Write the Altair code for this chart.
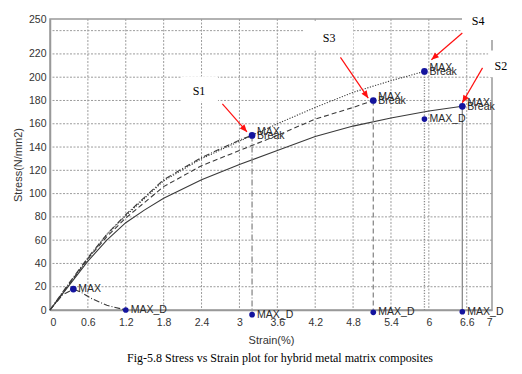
import math
import altair as alt
import pandas as pd

# ---------------- data ----------------
x_ticks = [0, 0.6, 1.2, 1.8, 2.4, 3.0, 3.6, 4.2, 4.8, 5.4, 6.0, 6.6, 7.0]
y_ticks = [0, 20, 40, 60, 80, 100, 120, 140, 160, 180, 200, 220, 240, 250]

s1_strain = [0, 0.3, 0.6, 0.9, 1.2, 1.8, 2.4, 3.0, 3.2]
s1_stress = [0, 23, 45, 65, 82, 112, 131, 146, 150]
s2_strain = [0, 0.3, 0.6, 0.9, 1.2, 1.5, 1.8, 2.4, 3.0, 3.6, 4.2, 4.8, 5.4, 6.0, 6.53]
s2_stress = [0, 21, 42, 60, 75, 86, 96, 112, 125, 137, 149, 158, 165, 171, 175]
s3_strain = [0, 0.3, 0.6, 0.9, 1.2, 1.8, 2.4, 3.0, 3.6, 4.2, 4.8, 5.12]
s3_stress = [0, 22, 44, 63, 79, 106, 124, 137, 150, 164, 174, 180]
s4_strain = [0, 0.3, 0.6, 0.9, 1.2, 1.8, 2.4, 3.0, 3.6, 4.2, 4.8, 5.4, 5.93]
s4_stress = [0, 22, 44, 65, 81, 111, 130, 145, 160, 174, 187, 197, 205]
s5_strain = [0, 0.2, 0.37, 0.5, 0.65, 0.9, 1.2]
s5_stress = [0, 13, 18, 15, 10, 4, 0]

max_strain = [0.37, 3.2, 5.12, 5.93, 6.53]
max_stress = [18, 150, 180, 205, 175]
break_strain = [3.2, 5.12, 5.93, 6.53]
break_stress = [150, 180, 205, 175]
maxd_strain = [1.2, 3.2, 5.12, 5.93, 6.53]
maxd_stress = [0, -4, -2, 164, -1.5]

drop_strain = [3.2, 5.12, 5.93, 6.53]
drop_top = [150, 180, 205, 175]
drop_bottom = [-4, -2, 0, 0]

s_names = ["S1", "S3", "S4", "S2"]
s_label_strain = [2.36, 4.42, 6.78, 7.14]
s_label_stress = [188, 234, 248, 210]
box_x1 = [2.09, 4.01, 6.525, 6.94]
box_x2 = [2.66, 4.80, 7.5, 7.5]
box_y1 = [179, 223, 232, 200]
box_y2 = [200.5, 247.5, 266, 223]
arrow_from_strain = [2.73, 4.60, 6.53, 6.85]
arrow_from_stress = [177, 217, 238, 208]
arrow_to_strain = [3.12, 5.04, 6.04, 6.53]
arrow_to_stress = [153, 182, 215, 178]

caption = "Fig-5.8 Stress vs Strain plot for hybrid metal matrix composites"

# ---------------- layout ----------------
W, H = 442, 291
XMAX, YMAX = 7.0, 250.0
ppx, ppy = W / XMAX, H / YMAX

xscale = alt.Scale(domain=[0, XMAX], nice=False, zero=False)
yscale = alt.Scale(domain=[0, YMAX], nice=False, zero=False)
xaxis = alt.Axis(values=x_ticks, format="~g", title="Strain(%)", ticks=False, grid=False,
                 labelPadding=7, titleY=30, titleBaseline="middle")
yaxis = alt.Axis(values=y_ticks, title="Stress(N/mm2)", ticks=False, grid=False,
                 labelPadding=4, titlePadding=5,
                 labelExpr="datum.value == 240 ? '' : datum.label")


def X(f="x"):
    return alt.X(f"{f}:Q", scale=xscale, axis=xaxis)


def Y(f="y"):
    return alt.Y(f"{f}:Q", scale=yscale, axis=yaxis)


LINE = "#3a3a3a"
DROP = "#8a8a8a"
PT = "#14149e"
GRID = "#9c9c9c"

layers = []

# grid lines drawn from the tick lists
gx = pd.DataFrame({"x": x_ticks[1:-1]})
layers.append(alt.Chart(gx).mark_rule(color=GRID, strokeDash=[2, 1.5], strokeWidth=1).encode(x=X()))
gy = pd.DataFrame({"y": y_ticks[1:-1]})
layers.append(alt.Chart(gy).mark_rule(color=GRID, strokeDash=[2, 1.5], strokeWidth=1).encode(y=Y()))

# white boxes behind S labels
boxes = pd.DataFrame({"x": box_x1, "x2": box_x2, "y": box_y1, "y2": box_y2})
layers.append(alt.Chart(boxes).mark_rect(color="white").encode(
    x=X(), x2="x2:Q", y=Y(), y2="y2:Q"))

curves = [
    (s1_strain, s1_stress, [6, 2, 1, 2]),
    (s2_strain, s2_stress, [1, 0]),
    (s3_strain, s3_stress, [5, 3]),
    (s4_strain, s4_stress, [1.2, 1.5]),
    (s5_strain, s5_stress, [6, 2, 1, 2]),
]
for xs, ys, dash in curves:
    df = pd.DataFrame({"x": xs, "y": ys, "o": list(range(len(xs)))})
    kw = {} if dash == [1, 0] else {"strokeDash": dash}
    layers.append(alt.Chart(df).mark_line(color=LINE, strokeWidth=1.1, **kw).encode(
        x=X(), y=Y(), order="o:Q"))

drop_dash = [[6, 2, 1, 2], [5, 3], [1.2, 1.5], [1, 0]]
for xv, top, bot, dash in zip(drop_strain, drop_top, drop_bottom, drop_dash):
    df = pd.DataFrame({"x": [xv], "y": [top], "y2": [bot]})
    kw = {} if dash == [1, 0] else {"strokeDash": dash}
    layers.append(alt.Chart(df).mark_rule(color=DROP, strokeWidth=1.3, **kw).encode(
        x=X(), y=Y(), y2="y2:Q"))

maxdf = pd.DataFrame({"x": max_strain, "y": max_stress})
mddf = pd.DataFrame({"x": maxd_strain, "y": maxd_stress})

layers.append(alt.Chart(maxdf).mark_point(filled=True, color=PT, size=45, opacity=1).encode(x=X(), y=Y()))
layers.append(alt.Chart(mddf).mark_point(filled=True, color=PT, size=32, opacity=1).encode(x=X(), y=Y()))

TXT = dict(font="Liberation Sans", fontSize=10.5, color="#2a2a2a", align="left", baseline="middle")
maxlab = pd.DataFrame({"x": max_strain[1:], "y": max_stress[1:], "t": ["MAX"] * 4})
layers.append(alt.Chart(maxlab).mark_text(dx=5, dy=-3, **TXT).encode(x=X(), y=Y(), text="t:N"))
brklab = pd.DataFrame({"x": break_strain, "y": break_stress, "t": ["Break"] * 4})
layers.append(alt.Chart(brklab).mark_text(dx=5, dy=1, **TXT).encode(x=X(), y=Y(), text="t:N"))
onelab = pd.DataFrame({"x": [max_strain[0]] + maxd_strain,
                       "y": [max_stress[0]] + maxd_stress,
                       "t": ["MAX"] + ["MAX_D"] * 5})
layers.append(alt.Chart(onelab).mark_text(dx=5, dy=0, **TXT).encode(x=X(), y=Y(), text="t:N"))

# S labels
sl = pd.DataFrame({"x": s_label_strain, "y": s_label_stress, "t": s_names})
layers.append(alt.Chart(sl).mark_text(font="Liberation Serif", fontSize=12, color="black").encode(
    x=X(), y=Y(), text="t:N"))

# arrows
angles = []
for fx, fy, tx, ty in zip(arrow_from_strain, arrow_from_stress, arrow_to_strain, arrow_to_stress):
    dx = (tx - fx) * ppx
    dy = -(ty - fy) * ppy
    angles.append(math.degrees(math.atan2(dx, -dy)) % 360)
arr = pd.DataFrame({"x": arrow_from_strain, "y": arrow_from_stress,
                    "x2": arrow_to_strain, "y2": arrow_to_stress, "a": angles})
layers.append(alt.Chart(arr).mark_rule(color="#ff1010", strokeWidth=1.2).encode(
    x=X(), y=Y(), x2="x2:Q", y2="y2:Q"))
layers.append(alt.Chart(arr).mark_point(
    shape="M0,0 L-0.42,1 L0.42,1 Z", filled=True, color="#ff1010", size=220, opacity=1
).encode(x=alt.X("x2:Q", scale=xscale, axis=xaxis), y=alt.Y("y2:Q", scale=yscale, axis=yaxis),
         angle=alt.Angle("a:Q", scale=None)))

chart = alt.layer(*layers).properties(
    width=W, height=H,
    autosize=alt.AutoSizeParams(type="none"),
    padding={"left": 42, "top": 11, "right": 22, "bottom": 68},
    title=alt.TitleParams(text=caption, orient="bottom", anchor="middle",
                          font="Liberation Serif", fontSize=12, fontWeight="normal",
                          color="black", offset=8, dx=9),
).configure_view(stroke="#999999", strokeWidth=1.5).configure_axis(
    labelFont="Liberation Sans", labelFontSize=10.5, labelColor="#333333",
    titleFont="Liberation Sans", titleFontSize=11, titleFontWeight="normal", titleColor="#333333",
    domainColor="#999999", domainWidth=1.5,
)

chart.save("out.html", embed_options={"renderer": "svg", "actions": False})
